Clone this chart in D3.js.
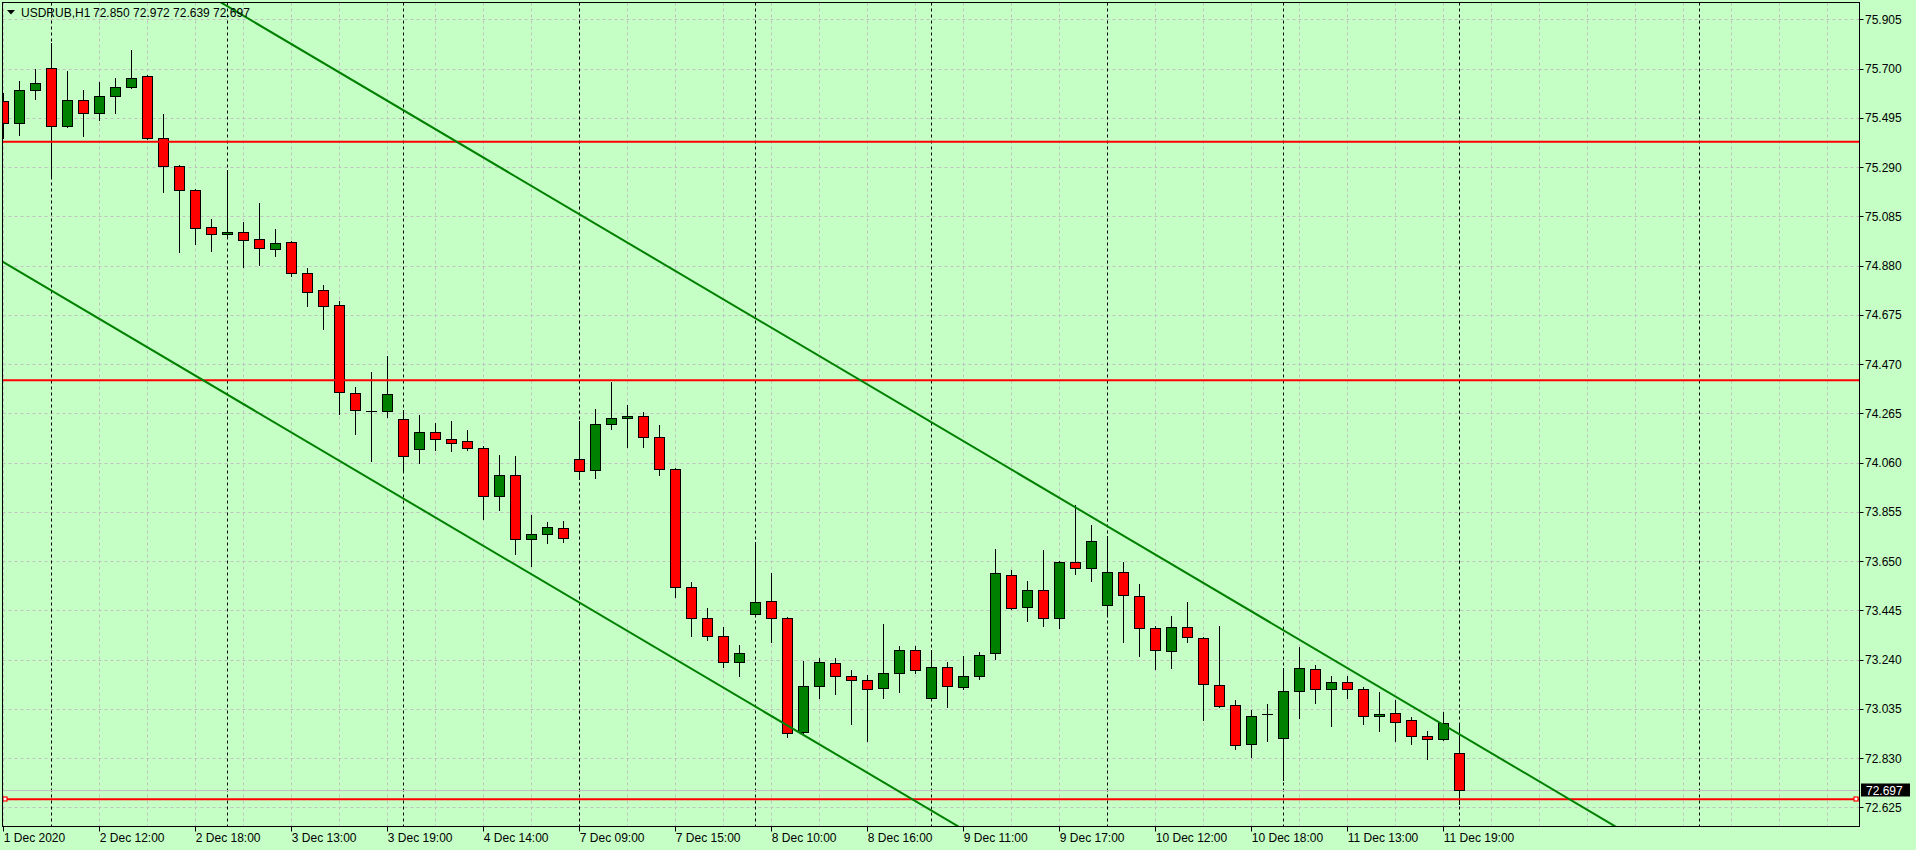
<!DOCTYPE html>
<html><head><meta charset="utf-8">
<script src="https://cdn.jsdelivr.net/npm/d3@7"></script>
<style>
html,body{margin:0;padding:0;background:#C5FFC5;overflow:hidden;}
svg{display:block;}
text{font-family:"Liberation Sans",Arial,sans-serif;font-size:12px;fill:#000;}
</style></head><body>
<svg id="chart" width="1916" height="850"></svg>
<script>
// ---------- DATA ----------
const opens = [75.565,75.472,75.609,75.701,75.460,75.568,75.514,75.584,75.622,75.668,
75.410,75.293,75.193,75.039,75.010,75.018,74.989,74.948,74.977,74.848,
74.777,74.714,74.348,74.275,74.273,74.240,74.115,74.186,74.157,74.148,
74.119,73.922,74.007,73.740,73.761,73.786,74.073,74.027,74.219,74.244,
74.252,74.165,74.032,73.540,73.415,73.336,73.228,73.428,73.482,73.411,
72.937,73.128,73.224,73.170,73.153,73.120,73.182,73.278,73.082,73.207,
73.124,73.170,73.266,73.594,73.457,73.528,73.415,73.644,73.619,73.465,
73.603,73.503,73.370,73.274,73.374,73.328,73.132,73.049,72.887,73.014,
72.912,73.111,73.199,73.116,73.145,73.116,73.003,73.016,72.987,72.920,
72.908,72.850];
const highs = [75.597,75.648,75.698,75.808,75.690,75.611,75.644,75.661,75.777,75.673,
75.511,75.297,75.197,75.072,75.276,75.060,75.139,75.031,74.981,74.868,
74.798,74.731,74.373,74.435,74.502,74.277,74.256,74.223,74.231,74.194,
74.127,74.090,74.086,73.840,73.811,73.815,74.231,74.283,74.396,74.299,
74.269,74.215,74.036,73.561,73.453,73.374,73.299,73.728,73.599,73.418,
73.236,73.245,73.245,73.195,73.174,73.386,73.295,73.295,73.278,73.228,
73.253,73.270,73.699,73.611,73.569,73.694,73.649,73.882,73.798,73.753,
73.644,73.553,73.378,73.420,73.478,73.332,73.378,73.070,73.032,73.053,
73.203,73.293,73.216,73.170,73.170,73.124,73.107,73.070,72.999,72.941,
73.020,72.972];
const lows = [75.412,75.425,75.574,75.243,75.455,75.420,75.487,75.516,75.618,75.405,
75.187,74.938,74.971,74.942,75.000,74.875,74.883,74.921,74.838,74.713,
74.617,74.261,74.180,74.067,74.251,74.019,74.059,74.113,74.109,74.113,
73.823,73.861,73.678,73.630,73.724,73.728,73.992,73.997,74.201,74.126,
74.126,74.009,73.501,73.339,73.322,73.207,73.170,73.424,73.315,72.918,
72.933,73.078,73.095,72.972,72.902,73.082,73.107,73.182,73.070,73.041,
73.116,73.160,73.242,73.449,73.401,73.380,73.372,73.597,73.569,73.420,
73.314,73.256,73.201,73.206,73.314,72.989,73.041,72.866,72.833,72.903,
72.739,72.997,73.061,72.962,73.078,72.970,72.941,72.903,72.887,72.828,
72.904,72.639];
const closes = [75.472,75.609,75.639,75.460,75.568,75.514,75.584,75.622,75.659,75.412,
75.293,75.193,75.035,75.010,75.018,74.985,74.952,74.972,74.848,74.768,
74.710,74.352,74.277,74.275,74.344,74.088,74.186,74.157,74.140,74.119,
73.922,74.007,73.740,73.761,73.790,73.744,74.023,74.219,74.244,74.252,
74.165,74.032,73.540,73.415,73.336,73.228,73.266,73.478,73.411,72.933,
73.128,73.228,73.170,73.153,73.116,73.182,73.278,73.195,73.207,73.128,
73.170,73.261,73.599,73.453,73.528,73.411,73.644,73.619,73.732,73.603,
73.507,73.370,73.278,73.374,73.332,73.137,73.045,72.883,73.007,73.014,
73.111,73.203,73.116,73.145,73.116,73.003,73.012,72.982,72.920,72.908,
72.974,72.697];

const xLabelBars  = [0,6,12,18,24,30,36,42,48,54,60,66,72,78,84,90];
const xLabelTexts = ["1 Dec 2020","2 Dec 12:00","2 Dec 18:00","3 Dec 13:00","3 Dec 19:00",
  "4 Dec 14:00","7 Dec 09:00","7 Dec 15:00","8 Dec 10:00","8 Dec 16:00","9 Dec 11:00",
  "9 Dec 17:00","10 Dec 12:00","10 Dec 18:00","11 Dec 13:00","11 Dec 19:00"];
const yTickValues = [75.905,75.700,75.495,75.290,75.085,74.880,74.675,74.470,74.265,
  74.060,73.855,73.650,73.445,73.240,73.035,72.830,72.625];
const separatorBars = [3,14,25,36,47,58,69,80,91,106];
const levelPrices = [75.395,74.403,72.658];
const bidPrice = 72.697;
const upperTrend = [[10,76.117],[100,72.575]];
const lowerTrend = [[0,74.894],[60,72.533]];
const symbolText = "USDRUB,H1";
const ohlcText = "72.850 72.972 72.639 72.697";

// ---------- LAYOUT ----------
const frame = {left:2.5, right:1859.5, top:2.5, bottom:826.5};
const x = d3.scaleLinear().domain([0,1]).range([3.3,19.3]);
const y = d3.scaleLinear().domain([72.625,75.905]).range([807.3,19.3]);
const px = v => Math.round(v) + 0.5;
const lastBar = Math.floor(x.invert(frame.right));

const svg = d3.select("#chart");
svg.append("rect").attr("width",1916).attr("height",850).attr("fill","#C5FFC5");

svg.append("defs").append("clipPath").attr("id","plotClip")
  .append("rect").attr("x",frame.left).attr("y",frame.top)
  .attr("width",frame.right-frame.left).attr("height",frame.bottom-frame.top);

const plot = svg.append("g").attr("clip-path","url(#plotClip)");

// grid
const gridColor = "#C0C0C0";
plot.append("g").selectAll("line").data(yTickValues).join("line")
  .attr("x1",frame.left).attr("x2",frame.right)
  .attr("y1",d=>px(y(d))).attr("y2",d=>px(y(d)))
  .attr("stroke",gridColor).attr("stroke-dasharray","3,3");
plot.append("g").selectAll("line").data(d3.range(0,lastBar+1,3)).join("line")
  .attr("x1",d=>px(x(d))).attr("x2",d=>px(x(d)))
  .attr("y1",frame.top).attr("y2",frame.bottom)
  .attr("stroke",gridColor).attr("stroke-dasharray","3,3");

// period separators
plot.append("g").selectAll("line").data(separatorBars).join("line")
  .attr("x1",d=>px(x(d))).attr("x2",d=>px(x(d)))
  .attr("y1",frame.top).attr("y2",frame.bottom)
  .attr("stroke","#000").attr("stroke-dasharray","3,3");

// bid line
plot.append("line").attr("x1",frame.left).attr("x2",frame.right)
  .attr("y1",px(y(bidPrice))).attr("y2",px(y(bidPrice)))
  .attr("stroke","#C0C0C0");

// candles
const bars = d3.range(opens.length).map(i=>({i,o:opens[i],h:highs[i],l:lows[i],c:closes[i]}));
const cg = plot.append("g");
cg.selectAll("line.wick").data(bars).join("line").attr("class","wick")
  .attr("x1",d=>px(x(d.i))).attr("x2",d=>px(x(d.i)))
  .attr("y1",d=>Math.round(y(d.h))).attr("y2",d=>Math.round(y(d.l))+1)
  .attr("stroke","#000");
cg.selectAll("rect.body").data(bars).join("rect").attr("class","body")
  .attr("x",d=>Math.round(x(d.i))-5+0.5)
  .attr("width",10)
  .attr("y",d=>px(y(Math.max(d.o,d.c))))
  .attr("height",d=>Math.max(0.01,Math.round(y(Math.min(d.o,d.c)))-Math.round(y(Math.max(d.o,d.c)))))
  .attr("fill",d=>d.c>d.o?"#008000":(d.c<d.o?"#FF0000":"none"))
  .attr("stroke","#000");

// horizontal levels
plot.append("g").selectAll("line").data(levelPrices).join("line")
  .attr("x1",frame.left).attr("x2",frame.right)
  .attr("y1",d=>y(d)).attr("y2",d=>y(d))
  .attr("stroke","#FF0000").attr("stroke-width",2);

// trend lines (rays across the plot)
function trendLine(pts){
  const slope=(pts[1][1]-pts[0][1])/(pts[1][0]-pts[0][0]);
  const b0=x.invert(frame.left), b1=x.invert(frame.right);
  return [[b0,pts[0][1]+slope*(b0-pts[0][0])],[b1,pts[0][1]+slope*(b1-pts[0][0])]];
}
const lineGen = d3.line().x(d=>x(d[0])).y(d=>y(d[1]));
[upperTrend,lowerTrend].forEach(t=>{
  plot.append("path").attr("d",lineGen(trendLine(t)))
    .attr("fill","none").attr("stroke","#008000").attr("stroke-width",2);
});

// selection markers on the bottom level
const lastLevel = levelPrices[levelPrices.length-1];
svg.append("g").selectAll("rect").data([5,1856]).join("rect")
  .attr("x",d=>d-2).attr("y",Math.round(y(lastLevel))-2)
  .attr("width",4).attr("height",4)
  .attr("fill","#fff").attr("stroke","#FF0000").attr("stroke-width",1.2);

// frame
svg.append("rect").attr("x",frame.left).attr("y",frame.top)
  .attr("width",frame.right-frame.left).attr("height",frame.bottom-frame.top)
  .attr("fill","none").attr("stroke","#000");

// y axis ticks + labels
const ya = svg.append("g");
ya.selectAll("line").data(yTickValues).join("line")
  .attr("x1",frame.right).attr("x2",frame.right+4)
  .attr("y1",d=>px(y(d))).attr("y2",d=>px(y(d))).attr("stroke","#000");
ya.selectAll("text").data(yTickValues).join("text")
  .attr("x",1865).attr("y",d=>y(d)+4.5)
  .text(d=>d3.format(".3f")(d));

// bid price label
svg.append("rect").attr("x",1861).attr("y",Math.round(y(bidPrice))-6.5)
  .attr("width",49).attr("height",13).attr("fill","#000");
svg.append("text").attr("x",1866).attr("y",y(bidPrice)+4.5)
  .style("fill","#fff").text(d3.format(".3f")(bidPrice));

// x axis ticks + labels
const xa = svg.append("g");
xa.selectAll("line").data(xLabelBars).join("line")
  .attr("x1",d=>px(x(d))).attr("x2",d=>px(x(d)))
  .attr("y1",frame.bottom).attr("y2",frame.bottom+5).attr("stroke","#000");
xa.selectAll("text").data(xLabelBars).join("text")
  .attr("x",d=>x(d)+0.5).attr("y",841.5)
  .text((d,i)=>xLabelTexts[i]);

// header
svg.append("path").attr("d","M7,10 L15,10 L11,14.5 Z").attr("fill","#000");
svg.append("text").attr("x",21).attr("y",16.7).text(symbolText);
svg.append("text").attr("x",93).attr("y",16.7).text(ohlcText);
</script>
</body></html>
